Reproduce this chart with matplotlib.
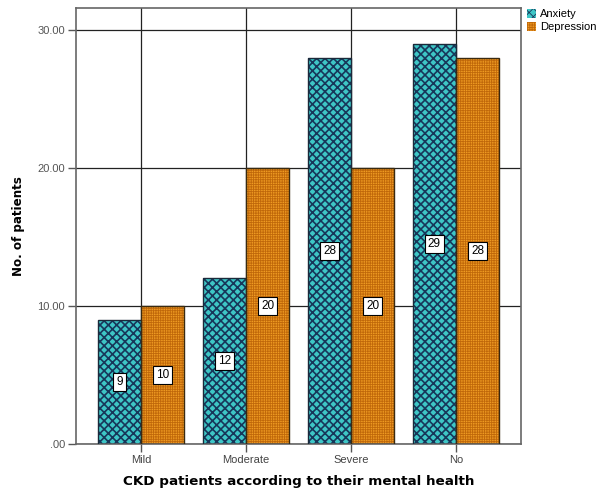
import matplotlib.pyplot as plt
import numpy as np

# CKD patients: counts by mental health level
categories = ["Mild", "Moderate", "Severe", "No"]
anxiety = [9, 12, 28, 29]
depression = [10, 20, 20, 28]
series_names = ["Anxiety", "Depression"]

plt.rcParams['font.family'] = ['DejaVu Sans']

fig = plt.figure(figsize=(6.01, 4.94), dpi=100)
ax = fig.add_axes([0.1265, 0.1012, 0.7404, 0.8826])

x = np.arange(len(categories))
w = 0.41
teal = '#3ec6c6'
teal_hatch = '#17375a'
orange = '#ee9a22'
orange_hatch = '#c0680a'

plt.rcParams['hatch.linewidth'] = 1.2
b1 = ax.bar(x - w/2, anxiety, w, color=teal, edgecolor=teal_hatch, hatch='xxxx',
            linewidth=0, zorder=2)
ax.bar(x - w/2, anxiety, w, fill=False, edgecolor='#1a2a3a', linewidth=1.0, zorder=3)

plt.rcParams['hatch.linewidth'] = 0.6
b2 = ax.bar(x + w/2, depression, w, color=orange, edgecolor=orange_hatch, hatch='+++++++',
            linewidth=0, zorder=2)
ax.bar(x + w/2, depression, w, fill=False, edgecolor='#3a2a10', linewidth=1.0, zorder=3)

for xi, v in zip(x - w/2, anxiety):
    ax.text(xi, v/2, str(v), ha='center', va='center', fontsize=8.5, zorder=4,
            family='Liberation Sans',
            bbox=dict(boxstyle='square,pad=0.25', fc='white', ec='black', lw=0.8))
for xi, v in zip(x + w/2, depression):
    ax.text(xi, v/2, str(v), ha='center', va='center', fontsize=8.5, zorder=4,
            family='Liberation Sans',
            bbox=dict(boxstyle='square,pad=0.25', fc='white', ec='black', lw=0.8))

ax.set_xlim(-0.62, 3.62)
ax.set_ylim(0, 31.6)
ax.set_yticks([0, 10, 20, 30])
ax.set_yticklabels(['.00', '10.00', '20.00', '30.00'], fontsize=8, color='#555555',
                   family='Liberation Sans')
ax.set_xticks(x)
ax.set_xticklabels(categories, fontsize=8, color='#444444', family='Liberation Sans')
ax.tick_params(axis='both', direction='out', length=6, width=1, color='#555555', pad=2)

ax.grid(True, color='#222222', linewidth=0.9, zorder=0)
ax.set_axisbelow(True)
for s in ax.spines.values():
    s.set_color('#666666')
    s.set_linewidth(1.2)

ax.set_xlabel("CKD patients according to their mental health", fontsize=9.7,
              fontweight='bold', labelpad=7)
ax.set_ylabel("No. of patients", fontsize=8.6, fontweight='bold', labelpad=9)

leg = fig.legend([b1, b2], series_names, loc='upper left',
                 bbox_to_anchor=(0.862, 1.0), frameon=False,
                 prop={'family': 'Liberation Sans', 'size': 8},
                 handlelength=0.8, handleheight=0.9, handletextpad=0.4,
                 labelspacing=0.2, borderaxespad=0.4)

fig.savefig('out.png', dpi=100)
